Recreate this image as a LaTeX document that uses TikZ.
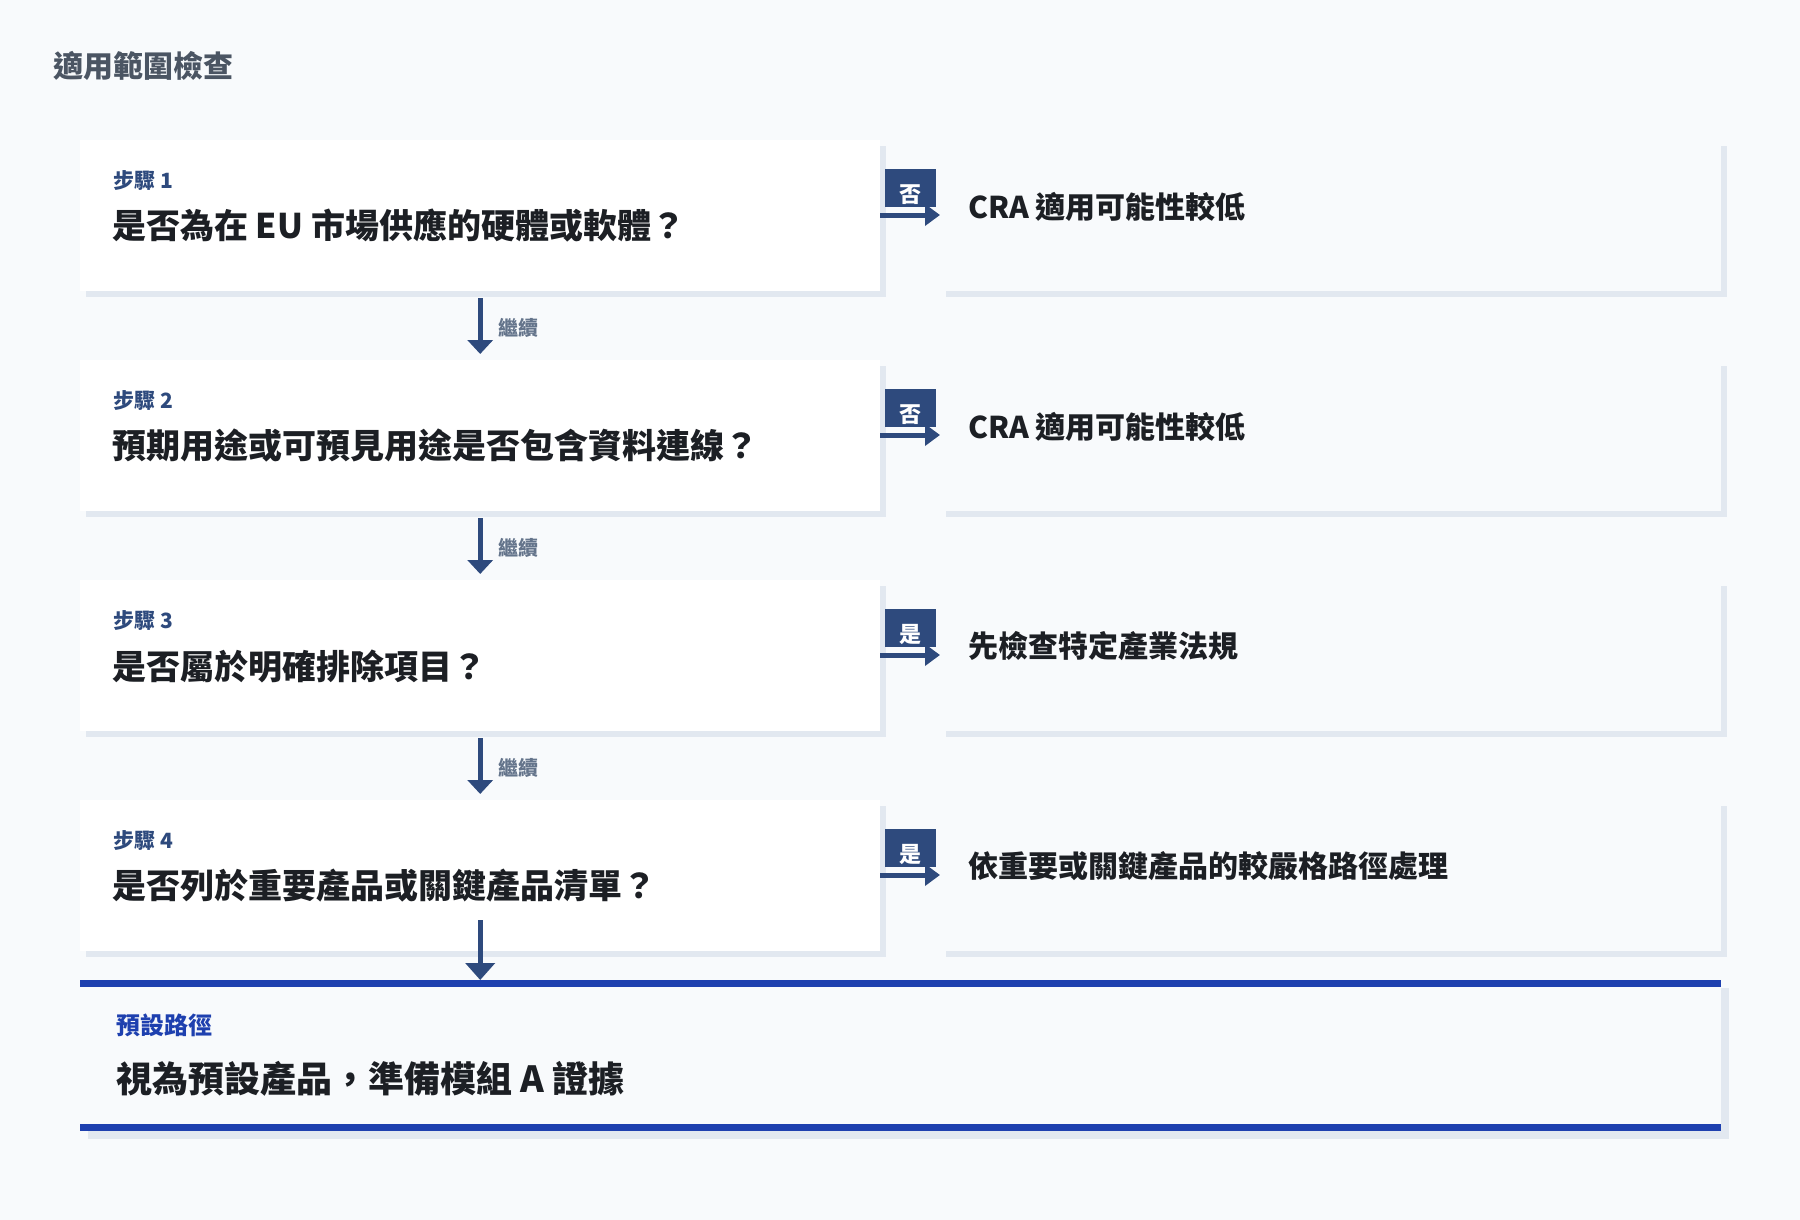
\documentclass[tikz,border=0pt]{standalone}
\usepackage{fontspec}
\setmainfont{Noto Sans CJK TC}
\usetikzlibrary{arrows.meta,calc,shadows}
\definecolor{bgc}{HTML}{F8FAFC}
\definecolor{shadowc}{HTML}{E2E8F0}
\definecolor{navyc}{HTML}{2E4A7D}
\definecolor{bluec}{HTML}{1E40AF}
\definecolor{textc}{HTML}{1C1F24}
\definecolor{grayc}{HTML}{64748B}
\definecolor{titlec}{HTML}{4B5563}
\tikzset{
  stepbox/.style={rectangle, anchor=north west, inner sep=0pt, minimum width=800pt, minimum height=151pt, fill=white,
    drop shadow={shadow xshift=6pt, shadow yshift=-6pt, fill=shadowc, opacity=1}},
  resbox/.style={rectangle, anchor=north west, inner sep=0pt, minimum width=781pt, minimum height=151pt, fill=bgc,
    drop shadow={shadow xshift=6pt, shadow yshift=-6pt, fill=shadowc, opacity=1}},
  defbox/.style={rectangle, anchor=north west, inner sep=0pt, minimum width=1641pt, minimum height=151pt, fill=bgc,
    drop shadow={shadow xshift=8pt, shadow yshift=-8pt, fill=shadowc, opacity=1}},
  badge/.style={rectangle, inner sep=0pt, minimum width=51pt, minimum height=38pt, fill=navyc},
  badgetxt/.style={inner sep=0pt, text=white, font=\fontsize{22}{26}\selectfont\bfseries},
  steplab/.style={anchor=west, inner sep=0pt, text=navyc, font=\fontsize{21}{25}\selectfont\bfseries},
  stepq/.style={anchor=west, inner sep=0pt, text=textc, font=\fontsize{34}{40}\selectfont\bfseries},
  restxt/.style={anchor=west, inner sep=0pt, text=textc, font=\fontsize{30}{36}\selectfont\bfseries},
  conttxt/.style={anchor=west, inner sep=0pt, text=grayc, font=\fontsize{20}{24}\selectfont\bfseries},
  harr/.style={draw=navyc, line width=5pt, -{Triangle[length=15pt,width=21pt]}},
  varr/.style={draw=navyc, line width=5pt, -{Triangle[length=14pt,width=25pt]}},
  larr/.style={draw=navyc, line width=5pt, -{Triangle[length=17pt,width=29pt]}},
}
\begin{document}
\begin{tikzpicture}[x=1pt,y=-1pt]
\fill[bgc] (0,0) rectangle (1800,1220);
\useasboundingbox (0,0) rectangle (1800,1220);

\node[anchor=west, inner sep=0pt, text=titlec, font=\fontsize{30}{36}\selectfont\bfseries] (title) at (53,66) {適用範圍檢查};

\foreach \i/\q/\b/\res in {
  1/是否為在 EU 市場供應的硬體或軟體？/否/CRA 適用可能性較低,
  2/預期用途或可預見用途是否包含資料連線？/否/CRA 適用可能性較低,
  3/是否屬於明確排除項目？/是/先檢查特定產業法規,
  4/是否列於重要產品或關鍵產品清單？/是/依重要或關鍵產品的較嚴格路徑處理}{
  \pgfmathsetmacro{\yy}{140+220*(\i-1)}
  \node[stepbox] (s\i) at (80,\yy) {};
  \node[resbox] (r\i) at (940,\yy) {};
  \node[steplab] (sl\i) at ($(s\i.north west)+(33,41)$) {步驟 \i};
  \node[stepq] (sq\i) at ($(s\i.north west)+(32,86)$) {\q};
  \node[restxt] (rt\i) at ($(r\i.north west)+(28,66.5)$) {\res};
  \draw[harr] ($(s\i.north east)+(0,75)$) -- ($(r\i.north west)+(0,75)$);
  \node[badge] (b\i) at ($(s\i.north east)+(30.5,48)$) {};
  \node[badgetxt] (bt\i) at ($(s\i.north east)+(30.5,54.5)$) {\b};
}

\foreach \i/\j in {1/2,2/3,3/4}{
  \draw[varr] ($(s\i.south)+(0,7)$) -- ($(s\j.north)+(0,-6)$);
  \node[conttxt] (c\i) at ($(s\i.south)+(18,36.5)$) {繼續};
}

\node[defbox] (d) at (80,980) {};
\fill[bluec] (d.north west) rectangle ($(d.north east)+(0,7)$);
\fill[bluec] ($(d.south west)+(0,-7)$) rectangle (d.south east);
\node[anchor=west, inner sep=0pt, text=bluec, font=\fontsize{24}{28}\selectfont\bfseries] (dl) at ($(d.north west)+(36,45.5)$) {預設路徑};
\node[anchor=west, inner sep=0pt, text=textc, font=\fontsize{36}{42}\selectfont\bfseries] (dq) at ($(d.north west)+(36.5,98.5)$) {視為預設產品，準備模組 A 證據};

\draw[larr] ($(s4.south)+(0,-31)$) -- (s4.south |- d.north);
\end{tikzpicture}
\end{document}
